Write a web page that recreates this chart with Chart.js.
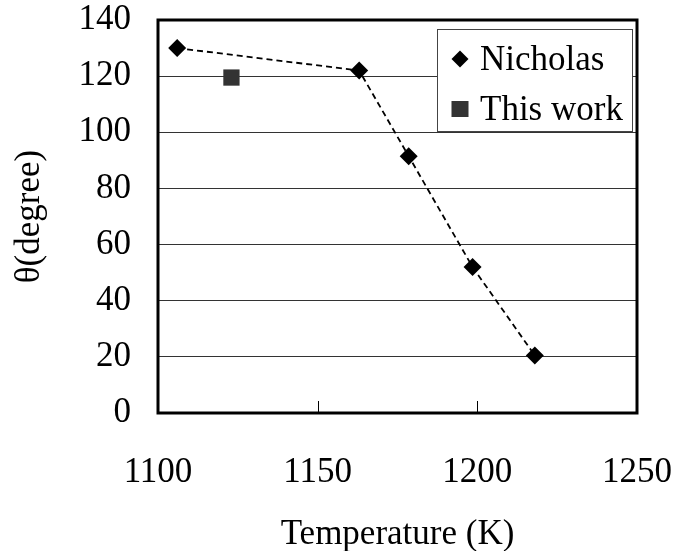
<!DOCTYPE html>
<html>
<head>
<meta charset="utf-8">
<script src="https://cdn.jsdelivr.net/npm/chart.js@4.4.0/dist/chart.umd.min.js"></script>
<style>
  html, body { margin: 0; padding: 0; background: #fff; }
  #wrap { width: 679px; height: 551px; }
</style>
</head>
<body>
<div id="wrap"><canvas id="graph" width="679" height="551"></canvas></div>
<script>
// values
const nicholas_temp = [1106, 1163, 1178.5, 1198.5, 1218];
const nicholas_theta = [130, 122, 91.5, 52, 20.5];
const thiswork_temp = [1123];
const thiswork_theta = [119.5];

const x_ticks = [1100, 1150, 1200, 1250];
const y_ticks = [0, 20, 40, 60, 80, 100, 120, 140];

const serif = "'Liberation Serif', 'Times New Roman', serif";
const fsize = 35;

const toPoints = (xs, ys) => xs.map((x, i) => ({ x: x, y: ys[i] }));

// frame + inner ticks on the x axis
const framePlugin = {
  id: "frame",
  afterDatasetsDraw(chart) {
    const { ctx, chartArea: a, scales } = chart;
    ctx.save();
    ctx.strokeStyle = "#000";
    ctx.lineWidth = 1;
    ctx.beginPath();
    x_ticks.slice(1, -1).forEach((v) => {
      const px = Math.round(scales.x.getPixelForValue(v)) + 0.5;
      ctx.moveTo(px, a.bottom);
      ctx.lineTo(px, a.bottom - 12);
    });
    ctx.stroke();
    ctx.lineWidth = 3;
    ctx.strokeRect(a.left, a.top, a.right - a.left, a.bottom - a.top);
    ctx.restore();
  },
};

// boxed legend inside the plot, top right
const boxLegend = {
  id: "boxLegend",
  afterDraw(chart) {
    const { ctx } = chart;
    const sets = chart.data.datasets;
    const bx = 437, by = 29, bw = 195, bh = 102;
    ctx.save();
    ctx.fillStyle = "#fff";
    ctx.fillRect(bx, by, bw, bh);
    ctx.strokeStyle = "#444";
    ctx.lineWidth = 1;
    ctx.strokeRect(bx + 0.5, by + 0.5, bw, bh);
    ctx.font = fsize + "px " + serif;
    ctx.textBaseline = "middle";
    sets.forEach((ds, i) => {
      const cy = by + 30 + i * 50;
      const cx = 460;
      ctx.fillStyle = ds.backgroundColor;
      ctx.beginPath();
      if (ds.pointStyle === "rectRot") {
        ctx.moveTo(cx, cy - 8.5);
        ctx.lineTo(cx + 8.5, cy);
        ctx.lineTo(cx, cy + 8.5);
        ctx.lineTo(cx - 8.5, cy);
        ctx.closePath();
        ctx.fill();
      } else {
        ctx.fillRect(cx - 8.5, cy - 8, 17, 16);
      }
      ctx.fillStyle = "#000";
      ctx.fillText(ds.label, 480, cy + 2);
    });
    ctx.restore();
  },
};

new Chart(document.getElementById("graph").getContext("2d"), {
  type: "scatter",
  data: {
    datasets: [
      {
        label: "Nicholas",
        data: toPoints(nicholas_temp, nicholas_theta),
        showLine: true,
        borderColor: "#000",
        borderWidth: 1.8,
        borderDash: [6, 4],
        backgroundColor: "#000",
        pointStyle: "rectRot",
        pointRadius: 9,
        pointBorderWidth: 0,
      },
      {
        label: "This work",
        data: toPoints(thiswork_temp, thiswork_theta),
        showLine: false,
        backgroundColor: "#333",
        borderColor: "#333",
        pointStyle: "rect",
        pointRadius: 11.5,
        pointBorderWidth: 0,
      },
    ],
  },
  options: {
    responsive: false,
    animation: false,
    layout: { padding: { top: 20, right: 42, left: 0, bottom: 0 } },
    plugins: {
      legend: { display: false },
      tooltip: { enabled: false },
    },
    scales: {
      x: {
        type: "linear",
        min: 1100,
        max: 1250,
        afterBuildTicks: (s) => { s.ticks = x_ticks.map((v) => ({ value: v })); },
        afterFit: (s) => {
          s.height = 138;
          s.paddingLeft = 0;
          s.paddingRight = 0;
        },
        grid: { display: false },
        border: { display: false },
        ticks: {
          color: "#000",
          padding: 31,
          font: { family: serif, size: fsize },
          maxRotation: 0,
          callback: (v) => String(v),
        },
        title: {
          display: true,
          text: "Temperature (K)",
          color: "#000",
          font: { family: serif, size: fsize, lineHeight: 0.9 },
          padding: { top: 10, bottom: 0 },
        },
      },
      y: {
        type: "linear",
        min: 0,
        max: 140,
        afterBuildTicks: (s) => { s.ticks = y_ticks.map((v) => ({ value: v })); },
        afterFit: (s) => {
          s.width = 158;
          s.paddingTop = 0;
          s.paddingBottom = 0;
        },
        grid: { color: "#333", lineWidth: 1, drawTicks: false },
        border: { display: false },
        ticks: {
          color: "#000",
          padding: 27,
          font: { family: serif, size: fsize },
          callback: (v) => String(v),
        },
        title: {
          display: true,
          text: "θ(degree)",
          color: "#000",
          font: { family: serif, size: fsize },
          padding: { bottom: 0, top: 9 },
        },
      },
    },
  },
  plugins: [framePlugin, boxLegend],
});
</script>
</body>
</html>
